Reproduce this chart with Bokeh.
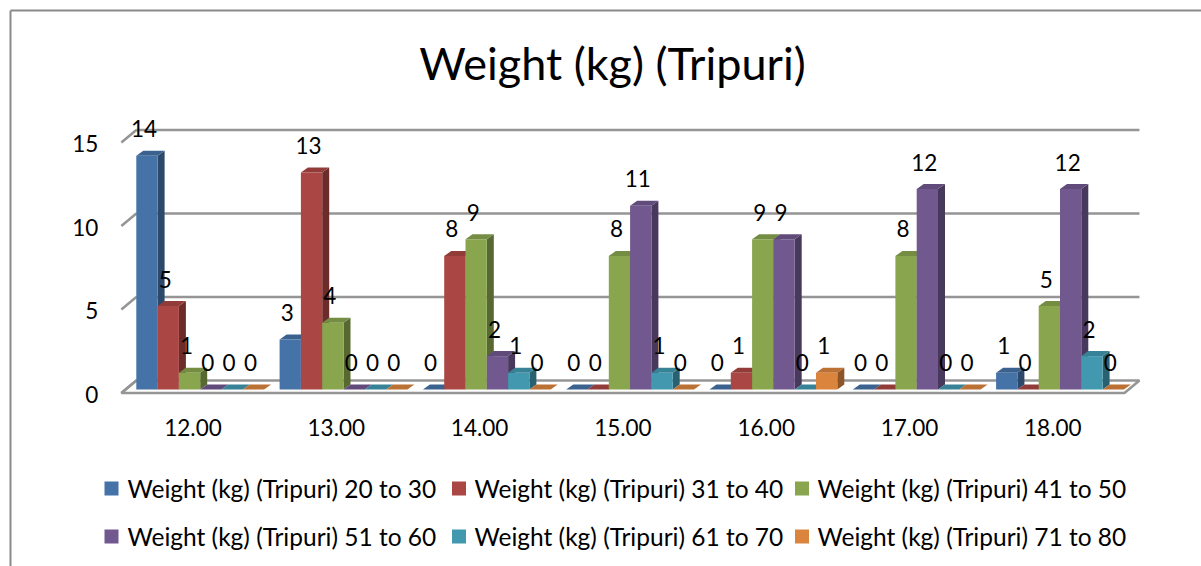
from bokeh.plotting import figure
from bokeh.models import Range1d
from bokeh.core.properties import value
from bokeh.embed import file_html
from bokeh.resources import INLINE

# ---- data -------------------------------------------------------------
categories = ["12.00", "13.00", "14.00", "15.00", "16.00", "17.00", "18.00"]
series_names = [
    "Weight (kg) (Tripuri) 20 to 30",
    "Weight (kg) (Tripuri) 31 to 40",
    "Weight (kg) (Tripuri) 41 to 50",
    "Weight (kg) (Tripuri) 51 to 60",
    "Weight (kg) (Tripuri) 61 to 70",
    "Weight (kg) (Tripuri) 71 to 80",
]
w20_30 = [14, 3, 0, 0, 0, 0, 1]
w31_40 = [5, 13, 8, 0, 1, 0, 0]
w41_50 = [1, 4, 9, 8, 9, 8, 5]
w51_60 = [0, 0, 2, 11, 9, 12, 12]
w61_70 = [0, 0, 1, 1, 0, 0, 2]
w71_80 = [0, 0, 0, 0, 1, 0, 0]
series_values = [w20_30, w31_40, w41_50, w51_60, w61_70, w71_80]
y_ticks = [0, 5, 10, 15]
title_text = "Weight (kg) (Tripuri)"

# ---- styling ----------------------------------------------------------
FONT = value("Lato")
LABEL_SIZE = "22.5px"
LEGEND_SIZE = "24.5px"
TITLE_SIZE = "45px"
front_colors = ["#4572A7", "#AA4643", "#89A54E", "#71588F", "#4198AF", "#DB843D"]


def shade(hex_color, f):
    r, g, b = (int(hex_color[k:k + 2], 16) for k in (1, 3, 5))
    return "#%02x%02x%02x" % (int(r * f), int(g * f), int(b * f))


side_colors = [shade(c, 0.64) for c in front_colors]
top_colors = [shade(c, 0.86) for c in front_colors]
GRID_COLOR = "#959595"

# ---- canvas / scale set-up --------------------------------------------
W, H = 1201, 566
X0, PX_PER_GROUP = 192.5, 143.3   # centre of first category on the floor's front edge
Y0, PX_PER_UNIT = 392.5, 16.7     # value 0 on the floor's front edge


def gx(px):
    return (px - X0) / PX_PER_GROUP


def gy(py):
    return (Y0 - py) / PX_PER_UNIT


def ddx(px):
    return px / PX_PER_GROUP


def ddy(px):
    return px / PX_PER_UNIT


# 3-D depth offsets (right, up)
bar_plane_dx, bar_plane_dy = ddx(7.2), ddy(3.5)
bar_depth_dx, bar_depth_dy = ddx(7.0), ddy(5.0)
floor_dx, floor_dy = ddx(15.0), ddy(12.5)
bar_w = ddx(21.3)

p = figure(
    width=W, height=H,
    x_range=Range1d(gx(0), gx(W)),
    y_range=Range1d(gy(H), gy(0)),
    output_backend="svg", toolbar_location=None,
    x_axis_type=None, y_axis_type=None,
    min_border=0, min_border_left=0, min_border_right=0,
    min_border_top=0, min_border_bottom=0,
)
p.grid.visible = False
p.outline_line_color = None
p.background_fill_color = "white"
p.border_fill_color = "white"

# chart area frame (left and top edges)
p.line([gx(10), gx(10)], [gy(10), gy(H + 5)], line_color="#8a8a8a", line_width=2)
p.line([gx(10), gx(W + 5)], [gy(10), gy(10)], line_color="#8a8a8a", line_width=2)

n = len(categories)
fl, fr = -0.5, n - 0.5

# floor
p.patch([fl, fr, fr + floor_dx, fl + floor_dx], [0, 0, floor_dy, floor_dy],
        fill_color="white", line_color=GRID_COLOR, line_width=2.5)

# back-wall gridlines with their left-wall diagonals
for t in y_ticks:
    if t > 0:
        p.line([fl + floor_dx, fr + floor_dx], [t + floor_dy, t + floor_dy],
               line_color=GRID_COLOR, line_width=2.5)
    p.line([fl, fl + floor_dx], [t, t + floor_dy], line_color=GRID_COLOR, line_width=2.5)

# ---- 3-D bars -----------------------------------------------------------
side_xs, side_ys, side_c = [], [], []
top_xs, top_ys, top_c = [], [], []
fl_, fr_, fb_, ft_, fc_ = [], [], [], [], []
lab_x, lab_y, lab_t = [], [], []
ns = len(series_values)
for j, vals in enumerate(series_values):
    for i, v in enumerate(vals):
        left = i - ns * bar_w / 2 + j * bar_w + bar_plane_dx
        right = left + bar_w
        bottom = bar_plane_dy
        top = v + bar_plane_dy
        if v > 0:
            side_xs.append([right, right + bar_depth_dx, right + bar_depth_dx, right])
            side_ys.append([bottom, bottom + bar_depth_dy, top + bar_depth_dy, top])
            side_c.append(side_colors[j])
            fl_.append(left); fr_.append(right); fb_.append(bottom); ft_.append(top)
            fc_.append(front_colors[j])
        top_xs.append([left, right, right + bar_depth_dx, left + bar_depth_dx])
        top_ys.append([top, top, top + bar_depth_dy, top + bar_depth_dy])
        top_c.append(top_colors[j])
        lab_x.append((left + right) / 2)
        lab_y.append(top)
        lab_t.append(str(v))

p.patches(side_xs, side_ys, fill_color=side_c, line_color=None)
p.patches(top_xs, top_ys, fill_color=top_c, line_color=None)
p.quad(left=fl_, right=fr_, bottom=fb_, top=ft_, fill_color=fc_, line_color=None)

# data labels
p.text(x=lab_x, y=lab_y, text=lab_t, x_offset=-3, y_offset=-27,
       text_align="center", text_baseline="middle",
       text_font=FONT, text_font_size=LABEL_SIZE, text_color="black")

# value axis labels
p.text(x=[fl] * len(y_ticks), y=y_ticks, text=[str(t) for t in y_ticks],
       x_offset=-23, y_offset=1, text_align="right", text_baseline="middle",
       text_font=FONT, text_font_size=LABEL_SIZE, text_color="black")

# category labels
p.text(x=list(range(n)), y=[0] * n, text=categories, y_offset=34,
       text_align="center", text_baseline="middle",
       text_font=FONT, text_font_size=LABEL_SIZE, text_color="black")

# title
p.text(x=[gx(612)], y=[gy(62)], text=[title_text],
       text_align="center", text_baseline="middle",
       text_font=FONT, text_font_size=TITLE_SIZE, text_color="black")

# legend
leg_marker_px = [111, 458.5, 801.5]
leg_text_px = [127, 474, 817]
leg_row_py = [488, 536]
mx, my, tx, ty = [], [], [], []
for k in range(ns):
    r, c = divmod(k, 3)
    mx.append(gx(leg_marker_px[c])); my.append(gy(leg_row_py[r]))
    tx.append(gx(leg_text_px[c])); ty.append(gy(leg_row_py[r]))
p.scatter(x=mx, y=my, marker="square", size=14, fill_color=front_colors, line_color=None)
p.text(x=tx, y=ty, text=series_names, text_align="left", text_baseline="middle",
       text_font=FONT, text_font_size=LEGEND_SIZE, text_color="black")

open("out.html", "w").write(file_html(p, INLINE))
